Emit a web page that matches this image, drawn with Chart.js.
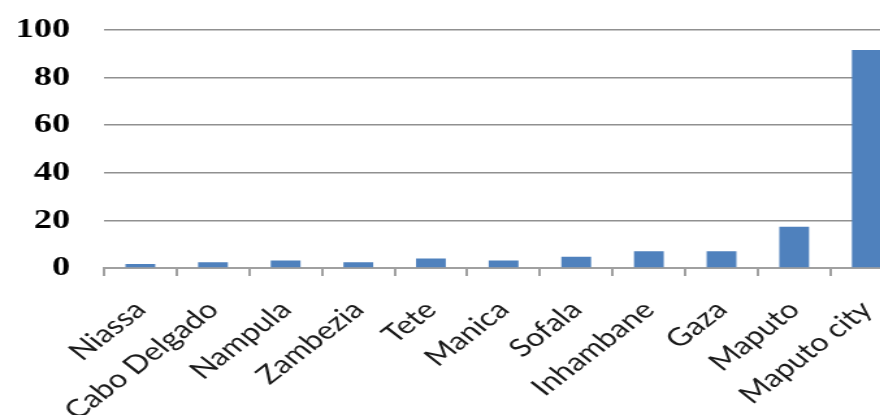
<!DOCTYPE html>
<html>
<head>
<meta charset="utf-8">
<script src="https://cdn.jsdelivr.net/npm/chart.js@4"></script>
<style>
    body { margin: 0; background: #fff; overflow: hidden; width: 880px; height: 415px; }
    /* la imagen original está estirada en horizontal */
    #contenedor { width: 707px; height: 415px; transform: scaleX(1.3); transform-origin: left top; }
</style>
</head>
<body>
<div id="contenedor"><canvas id="canvasProvincias"></canvas></div>
<script>
//Datos del gráfico
const provincias = ['Niassa', 'Cabo Delgado', 'Nampula', 'Zambezia', 'Tete', 'Manica', 'Sofala', 'Inhambane', 'Gaza', 'Maputo', 'Maputo city']
const valores = [1.7, 2.4, 3.2, 2.4, 4.0, 3.1, 4.7, 7.0, 7.0, 17.3, 91.6]
const ticksY = [0, 20, 40, 60, 80, 100]
//Fin de datos

// Creación de la gráfica
var ctx = document.getElementById('canvasProvincias').getContext('2d');
window.myBar = new Chart(ctx, {
    type: 'bar',
    data: {
        labels: provincias,
        datasets: [{
            data: valores,
            backgroundColor: '#4f81bd',
            categoryPercentage: 1,
            barPercentage: 0.41
        }]
    },
    options: {
        responsive: true,
        maintainAspectRatio: false,
        animation: false,
        layout: { padding: { top: 30, right: 0, left: 0, bottom: 0 } },
        plugins: { legend: { display: false }, tooltip: { enabled: false } },
        scales: {
            x: {
                afterFit: (scale) => { scale.height = 147 },
                border: { color: '#a0a0a0', width: 2 },
                grid: { offset: true, drawOnChartArea: false, drawTicks: true, tickLength: 8, color: '#a0a0a0', lineWidth: 2 },
                ticks: {
                    autoSkip: false,
                    minRotation: 45,
                    maxRotation: 45,
                    padding: 19,
                    color: '#1a1a1a',
                    font: { family: 'Lato', size: 25 }
                }
            },
            y: {
                min: 0,
                max: 100,
                afterFit: (scale) => { scale.width = 80 },
                afterBuildTicks: (scale) => { scale.ticks = ticksY.map(v => ({ value: v })) },
                border: { display: false },
                // marcas invisibles para separar las etiquetas del eje
                grid: { drawTicks: true, tickLength: 26, tickColor: 'rgba(0,0,0,0)', color: '#909090', lineWidth: 1.5 },
                ticks: {
                    padding: 0,
                    color: '#000',
                    font: { family: 'Liberation Serif', size: 28, weight: 'bold' }
                }
            }
        }
    }
})
// Fin de bloque Gráfica
</script>
</body>
</html>
